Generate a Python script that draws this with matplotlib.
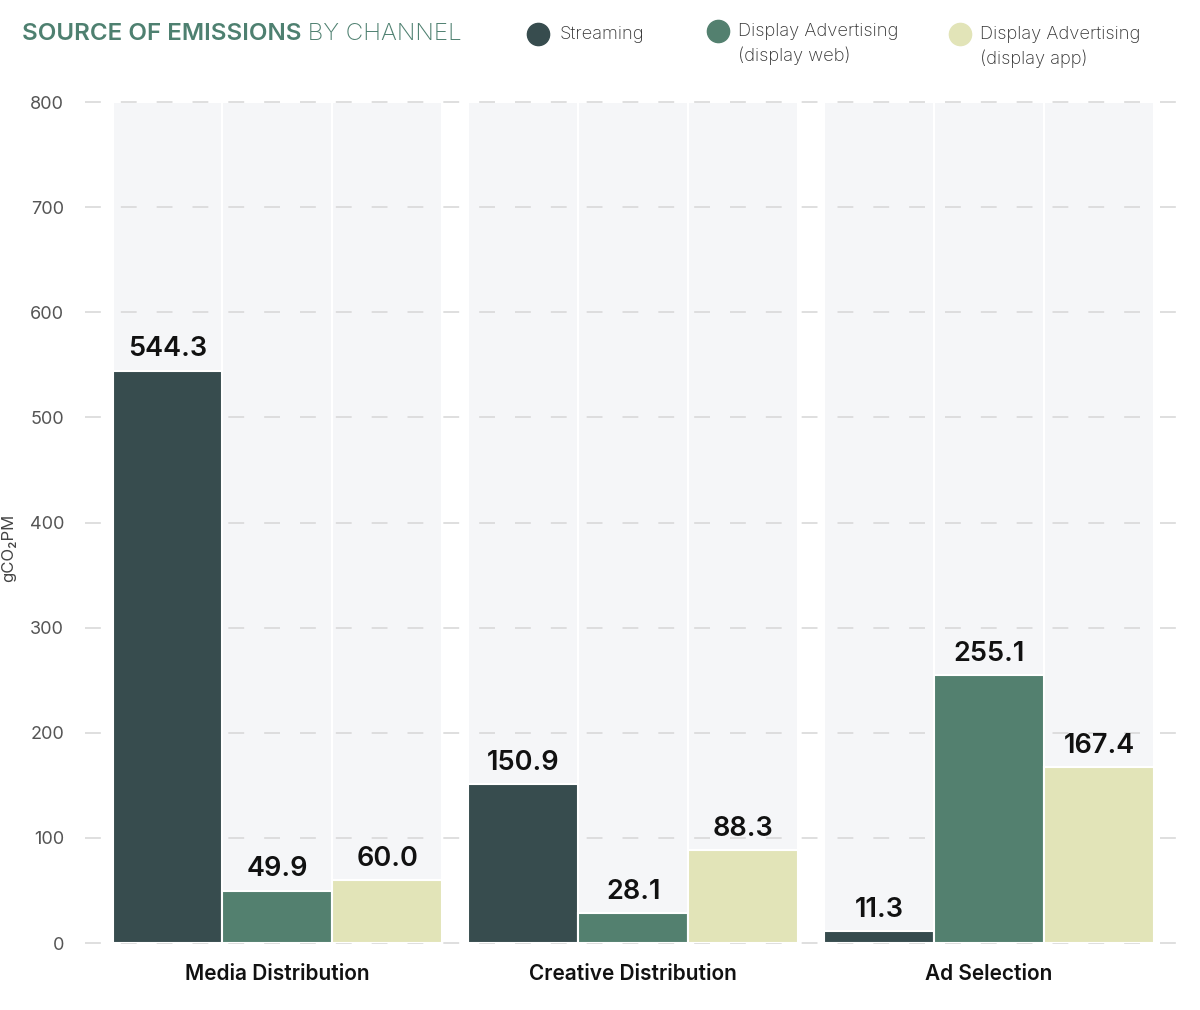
import numpy as np
import matplotlib
matplotlib.use("Agg")
import matplotlib.pyplot as plt
from matplotlib.lines import Line2D

# dados
categorias = ["Media Distribution", "Creative Distribution", "Ad Selection"]
series = ["Streaming", "Display Advertising\n(display web)", "Display Advertising\n(display app)"]
streaming = [544.3, 150.9, 11.3]
display_web = [49.9, 28.1, 255.1]
display_app = [60.0, 88.3, 167.4]
yticks = [0, 100, 200, 300, 400, 500, 600, 700, 800]

cores = ["#374c4e", "#53806f", "#e2e4b8"]
fundo = "#f5f6f8"
plt.rcParams['font.family'] = ['Inter', 'DejaVu Sans']

fig = plt.figure(figsize=(12, 10.1), dpi=100)
ax = fig.add_axes([0.0708, 0.0663, 0.9209, 0.8327])

x = np.arange(len(categorias))
w = 0.309
valores = [streaming, display_web, display_app]
ymax = yticks[-1]

for i, vals in enumerate(valores):
    pos = x + (i - 1) * w
    # colunas de fundo
    ax.bar(pos, [ymax] * len(pos), width=w, color=fundo, edgecolor="white",
           linewidth=1.5, zorder=1)
    ax.bar(pos, vals, width=w, color=cores[i], edgecolor="white",
           linewidth=1.5, zorder=3)
    for p, v in zip(pos, vals):
        ax.annotate(f"{v:.1f}", (p, v), xytext=(0, 6), textcoords="offset points",
                    ha="center", va="bottom", fontsize=19.5, fontweight="semibold",
                    color="#111111", zorder=4)

ax.set_ylim(0, ymax)
ax.set_xlim(-0.541, 2.565)
ax.set_yticks(yticks)
ax.set_yticklabels([str(t) for t in yticks], fontsize=13, color="#555555")
ax.tick_params(axis="y", length=0, pad=15)
ax.tick_params(axis="x", length=0, pad=15)
ax.set_xticks(x)
ax.set_xticklabels(categorias, fontsize=15, fontweight="semibold", color="#111111")
for t in yticks:
    ax.axhline(t, color="#d9d9d9", linewidth=1.2, dashes=(9.5, 12), zorder=2,
               clip_on=False)
for s in ax.spines.values():
    s.set_visible(False)

ax.set_ylabel("gCO₂PM", fontsize=12, color="#444444")
ax.yaxis.set_label_coords(-0.062, 0.47)

# titulo
t1 = fig.text(0.018, 0.966, "SOURCE OF EMISSIONS", fontsize=17.4, fontweight="semibold",
              color="#4e8070", va="center")
ax.annotate(" BY CHANNEL", xy=(1, 0.5), xycoords=t1, ha="left", va="center",
            fontsize=17.4, fontweight="light", color="#4e8070",
            annotation_clip=False)

# legenda manual
leg_x = [0.448, 0.598, 0.800]
leg_y = [0.966, 0.969, 0.966]
for lx, ly, c, s in zip(leg_x, leg_y, cores, series):
    fig.add_artist(Line2D([lx], [ly], marker="o", markersize=16, color=c,
                          linestyle="none", transform=fig.transFigure))
    if "\n" in s:
        fig.text(lx + 0.017, ly + 0.008, s, fontsize=13.2, fontweight="light",
                 color="#333333", va="top", linespacing=1.4)
    else:
        fig.text(lx + 0.018, ly, s, fontsize=13.2, fontweight="light",
                 color="#333333", va="center")

fig.savefig("out.png", dpi=100, facecolor="white")
